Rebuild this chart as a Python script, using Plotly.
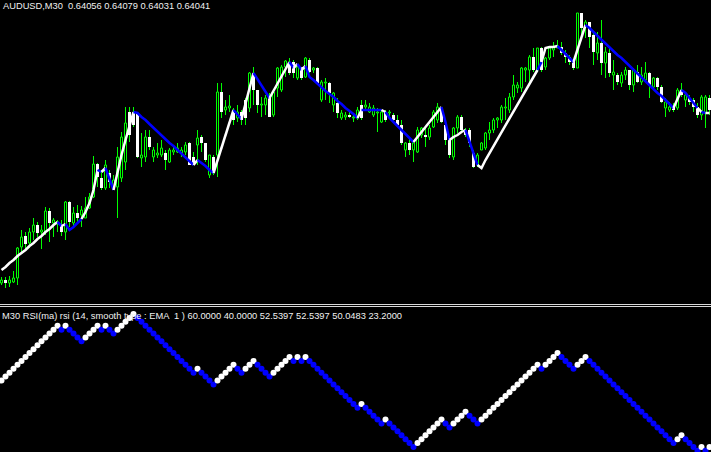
import plotly.graph_objects as go

# ---------------- data ----------------
bars = list(range(178))

open_ = [0.63868,0.63871,0.63868,0.63869,0.63873,0.63904,0.63915,0.63908,0.63919,0.63926,
0.63919,0.63919,0.63940,0.63928,0.63927,0.63926,0.63919,0.63949,0.63928,0.63938,
0.63936,0.63933,0.63943,0.63954,0.63987,0.63973,0.63963,0.63978,0.63963,0.63964,
0.63973,0.63989,0.64039,0.64038,0.64038,0.63993,0.63994,0.64014,0.63994,0.63996,
0.63996,0.63998,0.63989,0.63999,0.63999,0.63998,0.63999,0.64008,0.63994,0.64006,
0.64014,0.64008,0.63976,0.63994,0.63996,0.64059,0.64041,0.64043,0.64038,0.64033,
0.64039,0.64051,0.64043,0.64078,0.64061,0.64046,0.64046,0.64053,0.64036,0.64063,
0.64061,0.64084,0.64089,0.64089,0.64073,0.64084,0.64074,0.64091,0.64081,0.64083,
0.64051,0.64068,0.64068,0.64046,0.64048,0.64033,0.64034,0.64036,0.64033,0.64033,
0.64046,0.64044,0.64039,0.64036,0.64038,0.64029,0.64039,0.64038,0.64036,0.64031,
0.64026,0.64001,0.64008,0.64001,0.63999,0.64016,0.64016,0.64014,0.64024,0.64031,
0.64043,0.64026,0.64011,0.63994,0.64023,0.64034,0.64021,0.64021,0.63998,0.63986,
0.64001,0.64003,0.64018,0.64021,0.64031,0.64031,0.64043,0.64041,0.64054,0.64063,
0.64063,0.64081,0.64081,0.64094,0.64081,0.64103,0.64084,0.64093,0.64101,0.64103,
0.64104,0.64098,0.64094,0.64089,0.64083,0.64138,0.64124,0.64129,0.64116,0.64098,
0.64108,0.64088,0.64098,0.64076,0.64076,0.64068,0.64076,0.64081,0.64066,0.64079,
0.64069,0.64071,0.64078,0.64064,0.64073,0.64064,0.64043,0.64041,0.64044,0.64043,
0.64061,0.64051,0.64053,0.64051,0.64044,0.64036,0.64038,0.64053]

high = [0.63874,0.63874,0.63875,0.63880,0.63904,0.63921,0.63919,0.63923,0.63933,0.63929,
0.63926,0.63944,0.63943,0.63933,0.63931,0.63931,0.63950,0.63950,0.63944,0.63946,
0.63945,0.63954,0.63958,0.63995,0.63988,0.63981,0.63991,0.63981,0.63976,0.64004,
0.64019,0.64044,0.64044,0.64044,0.64039,0.64018,0.64021,0.64021,0.64004,0.64008,
0.64011,0.64001,0.64003,0.64006,0.64008,0.64004,0.64009,0.64009,0.63999,0.64021,
0.64016,0.64008,0.63996,0.63996,0.64068,0.64068,0.64051,0.64056,0.64043,0.64046,
0.64041,0.64053,0.64079,0.64084,0.64061,0.64054,0.64056,0.64058,0.64061,0.64084,
0.64086,0.64091,0.64093,0.64091,0.64086,0.64084,0.64094,0.64093,0.64084,0.64084,
0.64071,0.64073,0.64069,0.64059,0.64053,0.64041,0.64039,0.64039,0.64038,0.64044,
0.64051,0.64051,0.64048,0.64046,0.64043,0.64041,0.64041,0.64041,0.64038,0.64036,
0.64031,0.64009,0.64014,0.64009,0.64024,0.64024,0.64024,0.64026,0.64041,0.64048,
0.64044,0.64028,0.64013,0.64024,0.64036,0.64036,0.64023,0.64023,0.64001,0.63998,
0.64009,0.64019,0.64029,0.64033,0.64034,0.64046,0.64053,0.64058,0.64076,0.64069,
0.64084,0.64084,0.64096,0.64103,0.64103,0.64104,0.64094,0.64104,0.64109,0.64111,
0.64109,0.64101,0.64096,0.64091,0.64138,0.64138,0.64131,0.64129,0.64118,0.64119,
0.64131,0.64104,0.64103,0.64091,0.64078,0.64079,0.64084,0.64081,0.64083,0.64086,
0.64084,0.64089,0.64079,0.64074,0.64074,0.64066,0.64053,0.64049,0.64048,0.64063,
0.64068,0.64059,0.64056,0.64053,0.64048,0.64056,0.64056,0.64056]

low = [0.63866,0.63863,0.63864,0.63868,0.63866,0.63899,0.63901,0.63903,0.63911,0.63914,
0.63902,0.63916,0.63909,0.63914,0.63919,0.63915,0.63911,0.63924,0.63924,0.63929,
0.63924,0.63933,0.63942,0.63953,0.63964,0.63961,0.63961,0.63963,0.63961,0.63933,
0.63969,0.63981,0.64009,0.64024,0.63993,0.63984,0.63989,0.64001,0.63989,0.63993,
0.63994,0.63981,0.63988,0.63996,0.63998,0.63994,0.63996,0.63986,0.63986,0.63986,
0.63999,0.63989,0.63973,0.63976,0.63974,0.64033,0.64036,0.64039,0.64026,0.64029,
0.64026,0.64026,0.64039,0.64046,0.64038,0.64034,0.64036,0.64034,0.64034,0.64054,
0.64059,0.64074,0.64076,0.64073,0.64071,0.64071,0.64073,0.64078,0.64078,0.64066,
0.64049,0.64051,0.64048,0.64039,0.64033,0.64031,0.64031,0.64033,0.64029,0.64031,
0.64031,0.64041,0.64038,0.64034,0.64019,0.64028,0.64029,0.64034,0.64029,0.64024,
0.64006,0.63994,0.63996,0.63989,0.63998,0.64013,0.64004,0.64011,0.64023,0.64028,
0.64028,0.64006,0.63993,0.63991,0.64018,0.64019,0.64014,0.64004,0.63983,0.63984,
0.64001,0.64001,0.64011,0.64018,0.64023,0.64028,0.64031,0.64038,0.64051,0.64058,
0.64059,0.64069,0.64069,0.64079,0.64079,0.64079,0.64081,0.64091,0.64094,0.64103,
0.64096,0.64088,0.64086,0.64081,0.64083,0.64113,0.64113,0.64103,0.64086,0.64091,
0.64076,0.64073,0.64074,0.64061,0.64066,0.64064,0.64071,0.64061,0.64059,0.64068,
0.64066,0.64069,0.64053,0.64063,0.64061,0.64048,0.64034,0.64039,0.64039,0.64041,
0.64054,0.64044,0.64046,0.64039,0.64033,0.64031,0.64023,0.64036]

close = [0.63871,0.63868,0.63871,0.63873,0.63903,0.63914,0.63907,0.63919,0.63926,0.63918,
0.63921,0.63940,0.63928,0.63931,0.63929,0.63919,0.63949,0.63929,0.63938,0.63933,
0.63941,0.63943,0.63954,0.63987,0.63974,0.63963,0.63986,0.63969,0.63971,0.63994,
0.64014,0.64028,0.64016,0.64026,0.63994,0.63996,0.64014,0.64004,0.64001,0.63998,
0.64003,0.63991,0.64001,0.64001,0.64003,0.64001,0.64006,0.63986,0.63986,0.64013,
0.64008,0.63991,0.63996,0.63978,0.64059,0.64039,0.64044,0.64045,0.64031,0.64039,
0.64031,0.64033,0.64078,0.64061,0.64046,0.64047,0.64053,0.64034,0.64059,0.64083,
0.64084,0.64090,0.64078,0.64078,0.64084,0.64073,0.64093,0.64079,0.64083,0.64068,
0.64069,0.64069,0.64058,0.64058,0.64038,0.64038,0.64036,0.64034,0.64034,0.64041,
0.64033,0.64046,0.64044,0.64043,0.64039,0.64039,0.64031,0.64039,0.64031,0.64026,
0.64008,0.64008,0.64001,0.64008,0.64021,0.64023,0.64014,0.64023,0.64039,0.64044,
0.64029,0.64011,0.63996,0.64023,0.64034,0.64021,0.64016,0.64008,0.63984,0.63996,
0.64008,0.64018,0.64021,0.64031,0.64033,0.64044,0.64044,0.64054,0.64066,0.64066,
0.64083,0.64083,0.64094,0.64081,0.64103,0.64081,0.64093,0.64103,0.64104,0.64104,
0.64098,0.64094,0.64089,0.64083,0.64138,0.64123,0.64129,0.64114,0.64099,0.64108,
0.64088,0.64099,0.64078,0.64079,0.64069,0.64076,0.64081,0.64066,0.64081,0.64069,
0.64076,0.64078,0.64066,0.64073,0.64064,0.64049,0.64049,0.64044,0.64041,0.64061,
0.64056,0.64056,0.64049,0.64044,0.64036,0.64054,0.64054,0.64041]

# overlay trend line (price)
trend = [0.63881,0.63884,0.63888,0.63891,0.63895,0.63898,0.63901,0.63905,0.63908,0.63912,
0.63915,0.63919,0.63922,0.63926,0.63929,0.63925,0.63927,0.63921,0.63924,0.63928,
0.63932,0.63939,0.63948,0.63961,0.63981,0.63979,0.63983,0.63971,0.63961,0.63979,
0.63996,0.64011,0.64026,0.64039,0.64038,0.64034,0.64031,0.64027,0.64023,0.64019,
0.64016,0.64012,0.64008,0.64005,0.64001,0.63997,0.63994,0.63990,0.63986,0.63991,
0.63988,0.63985,0.63981,0.63978,0.63991,0.64004,0.64016,0.64029,0.64041,0.64036,
0.64032,0.64048,0.64063,0.64078,0.64072,0.64066,0.64059,0.64053,0.64060,0.64067,
0.64075,0.64082,0.64089,0.64083,0.64087,0.64081,0.64085,0.64074,0.64071,0.64067,
0.64064,0.64060,0.64057,0.64054,0.64050,0.64047,0.64043,0.64040,0.64037,0.64033,
0.64041,0.64041,0.64041,0.64041,0.64041,0.64041,0.64039,0.64033,0.64029,0.64025,
0.64021,0.64017,0.64013,0.64009,0.64014,0.64020,0.64025,0.64030,0.64035,0.64040,
0.64044,0.64029,0.64011,0.64014,0.64016,0.64019,0.64021,0.64009,0.63998,0.63986,
0.63983,0.63991,0.63998,0.64005,0.64012,0.64019,0.64026,0.64033,0.64040,0.64047,
0.64054,0.64061,0.64068,0.64075,0.64081,0.64089,0.64103,0.64104,0.64104,0.64105,
0.64101,0.64097,0.64093,0.64089,0.64101,0.64114,0.64126,0.64123,0.64119,0.64115,
0.64112,0.64108,0.64104,0.64100,0.64096,0.64093,0.64089,0.64085,0.64081,0.64077,
0.64074,0.64070,0.64066,0.64062,0.64058,0.64055,0.64051,0.64047,0.64043,0.64052,
0.64061,0.64058,0.64053,0.64048,0.64043,0.64039,0.64038,0.64038]

# lower indicator (stepping signal)
signal = [16,17,18,19,20,21,22,23,24,25,26,27,28,29,30,29,30,29,28,27,
26,27,28,29,30,29,30,29,28,29,30,31,32,33,32,31,30,29,28,27,
26,25,24,23,22,21,20,19,18,19,18,17,16,15,16,17,18,19,20,19,
18,19,20,21,20,19,18,17,18,19,20,21,22,21,22,21,22,21,20,19,
18,17,16,15,14,13,12,11,10,9,10,9,8,7,6,5,6,5,4,3,
2,1,0,-1,0,1,2,3,4,5,6,5,4,5,6,7,8,7,6,5,
6,7,8,9,10,11,12,13,14,15,16,17,18,19,20,19,20,21,22,23,
22,21,20,19,20,21,22,21,20,19,18,17,16,15,14,13,12,11,10,9,
8,7,6,5,4,3,2,1,0,1,2,1,0,-1,-2,-1,-2,-1]

title_main = "AUDUSD,M30  0.64056 0.64079 0.64031 0.64041"
title_ind = "M30 RSI(ma) rsi (14, smooth type : EMA  1 ) 60.0000 40.0000 52.5397 52.5397 50.0483 23.2000"

# ---------------- styles ----------------
LIME = "#00ff00"
BLUE = "#0000ff"
WHITE = "#ffffff"
W, H = 711, 452
FONT = "Liberation Sans, Arial, sans-serif"

n = len(bars)
state_up = [True] + [signal[i] > signal[i - 1] for i in range(1, n)]

fig = go.Figure()

# wicks (only the parts outside the body, since bars render below lines)
wx, wy = [], []
for i in range(n):
    top = max(open_[i], close[i])
    bot = min(open_[i], close[i])
    if high[i] > top:
        wx += [bars[i], bars[i], None]
        wy += [top, high[i], None]
    if low[i] < bot:
        wx += [bars[i], bars[i], None]
        wy += [low[i], bot, None]
fig.add_trace(go.Scatter(x=wx, y=wy, mode="lines", line=dict(color=LIME, width=1),
                         xaxis="x", yaxis="y", showlegend=False, hoverinfo="skip"))

# bodies: bull = hollow (black with lime outline), bear = white
bull = [i for i in range(n) if close[i] >= open_[i]]
bear = [i for i in range(n) if close[i] < open_[i]]
fig.add_trace(go.Bar(
    x=[bars[i] for i in bull],
    y=[max(close[i] - open_[i], 0.000005) for i in bull],
    base=[open_[i] for i in bull],
    width=0.5, marker=dict(color="#000000", line=dict(color=LIME, width=1)),
    xaxis="x", yaxis="y", showlegend=False, hoverinfo="skip"))
fig.add_trace(go.Bar(
    x=[bars[i] for i in bear],
    y=[open_[i] - close[i] for i in bear],
    base=[close[i] for i in bear],
    width=0.75, marker=dict(color=WHITE, line=dict(width=0)),
    xaxis="x", yaxis="y", showlegend=False, hoverinfo="skip"))

# coloured trend line: runs of equal state
i = 1
while i < n:
    j = i
    while j + 1 < n and state_up[j + 1] == state_up[i]:
        j += 1
    fig.add_trace(go.Scatter(
        x=bars[i - 1:j + 1], y=trend[i - 1:j + 1], mode="lines",
        line=dict(color=WHITE if state_up[i] else BLUE, width=2.5),
        xaxis="x", yaxis="y", showlegend=False, hoverinfo="skip",
    ))
    i = j + 1

# indicator dots
fig.add_trace(go.Scatter(
    x=bars, y=signal, mode="markers",
    marker=dict(size=6, color=[WHITE if s else BLUE for s in state_up], line=dict(width=0)),
    xaxis="x", yaxis="y2", showlegend=False, hoverinfo="skip",
))

top_dom = (H - 302) / H
bot_dom = (H - 307) / H

fig.update_layout(
    width=W, height=H,
    margin=dict(l=0, r=0, t=0, b=0),
    paper_bgcolor="#000000", plot_bgcolor="#000000",
    barmode="overlay",
    xaxis=dict(range=[-0.375, 177.375], visible=False, anchor="y2", fixedrange=True),
    yaxis=dict(domain=[top_dom, 1], range=[0.63849, 0.64151], visible=False),
    yaxis2=dict(domain=[0, bot_dom], range=[-2.29, 34.79], visible=False),
    shapes=[
        dict(type="line", xref="paper", yref="paper", x0=0, x1=1,
             y0=(H - 304.5) / H, y1=(H - 304.5) / H, line=dict(color="#d8d8d8", width=1)),
        dict(type="line", xref="paper", yref="paper", x0=0, x1=1,
             y0=(H - 306.5) / H, y1=(H - 306.5) / H, line=dict(color="#d8d8d8", width=1)),
    ],
    annotations=[
        dict(text=title_main, xref="paper", yref="paper", x=1 / W, y=1 - 6 / H,
             xanchor="left", yanchor="middle", showarrow=False,
             font=dict(family=FONT, size=9.3, color="#f0f0f0")),
        dict(text=title_ind, xref="paper", yref="paper", x=0, y=1 - 316 / H,
             xanchor="left", yanchor="middle", showarrow=False,
             font=dict(family=FONT, size=9.3, color="#f0f0f0")),
    ],
)

fig.write_html("out.html", config={"displayModeBar": False},
               post_script="document.body.style.margin='0';document.body.style.background='#000';")
